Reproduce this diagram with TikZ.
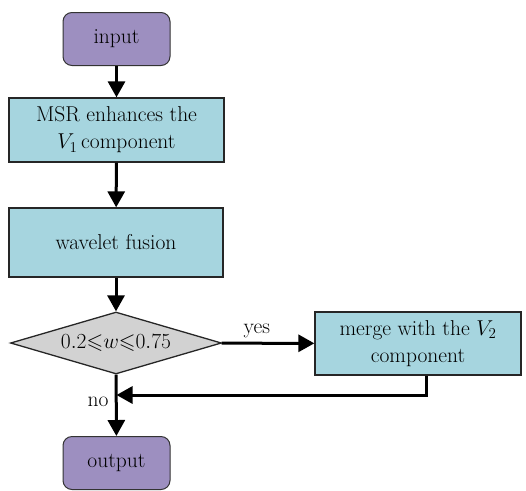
\documentclass[tikz,border=0pt]{standalone}
\usepackage{fix-cm}
\usepackage{amssymb}
\usepackage{fontspec}
\usetikzlibrary{arrows.meta,shapes.geometric}
\definecolor{termpurple}{HTML}{9D8FC0}
\definecolor{stepblue}{HTML}{A6D5DF}
\definecolor{condgray}{HTML}{D2D2D2}

\begin{document}
\begin{tikzpicture}[x=1pt,y=-1pt,
    every node/.style={font=\fontsize{21.5}{27}\selectfont,align=center},
    termbox/.style={draw=black!80,fill=termpurple,rounded corners=9pt,line width=1pt,
      minimum width=107pt,minimum height=53pt,inner sep=0pt},
    procbox/.style={draw=black!85,fill=stepblue,line width=1.3pt,inner sep=0pt},
    decide/.style={diamond,aspect=3.4,draw=black!85,fill=condgray,line width=1.3pt,inner sep=0pt,
      minimum width=211pt,minimum height=62pt},
    arr/.style={-{Triangle[length=16pt,width=17pt]},line width=3pt}]
  \useasboundingbox (0,0) rectangle (526,490);

  \node[termbox] (input) at (116.5,39) {input};
  \node[procbox,minimum width=215pt,minimum height=64pt] (msr) at (116.5,130)
    {MSR enhances the\\$V_1$\,component};
  \node[procbox,minimum width=214pt,minimum height=69pt] (fusion) at (116,242.5) {wavelet fusion};
  \node[decide] (cond) at (116,343) {$0.2{\leqslant}w{\leqslant}0.75$};
  \node[procbox,minimum width=206pt,minimum height=63pt] (merge) at (418,343.5)
    {merge with the $V_2$\\component};
  \node[termbox] (output) at (116.5,463) {output};
  \coordinate (join) at (116.5,395);

  \draw[arr] (input) -- (msr);
  \draw[arr] (msr) -- (fusion);
  \draw[arr] (fusion) -- (cond);
  \draw[arr] (cond) -- node[pos=0.38,above=1pt] {yes} (merge);
  \draw[arr] ([xshift=8pt]merge.south) |- (join);
  \draw[arr] (cond) -- node[pos=0.45,left=3pt] {no} (output);
\end{tikzpicture}
\end{document}
